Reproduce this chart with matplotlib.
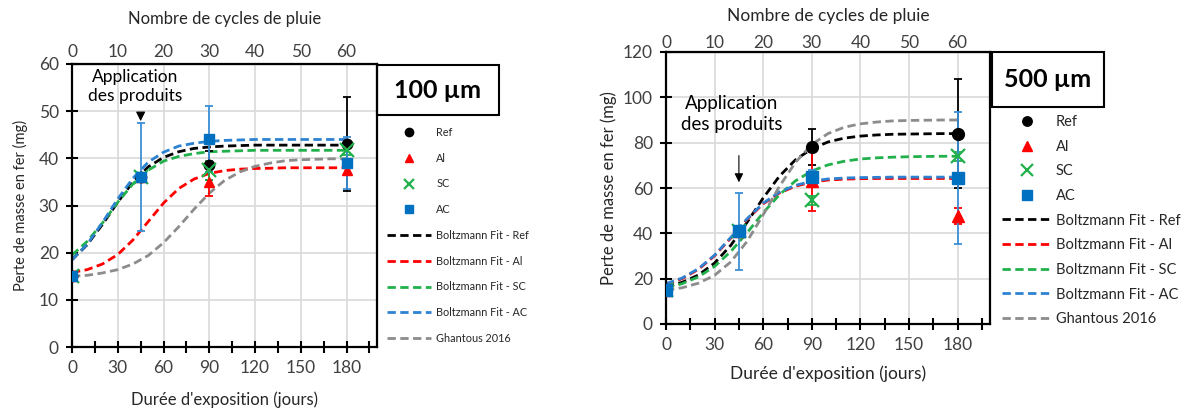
import matplotlib.pyplot as plt
from matplotlib.patches import Rectangle

plt.rcParams['font.family'] = ['Lato', 'DejaVu Sans']

# measured points (days of exposure)
days = [0, 45, 90, 180]

# 100 um coating
ref_100 = [15, 36, 38.5, 43]
ref_100_err = [0, 0, 3, 10]
al_100 = [15, 36, 35, 37.5]
al_100_err = [0, 0, 3, 1]
sc_100 = [15, 36, 37.5, 41.7]
sc_100_err = [0, 0, 2, 1]
ac_100 = [15, 36, 44, 39]
ac_100_err = [0, 11.4, 7, 5.5]

# 500 um coating
ref_500 = [15, 41, 78, 84]
ref_500_err = [0, 0, 8, 24]
al_500 = [15, 41, 63, 47.5]
al_500_err = [0, 0, 13, 3.5]
sc_500 = [15, 41, 54.5, 74]
sc_500_err = [0, 0, 2, 2]
ac_500 = [15, 41, 65, 64.5]
ac_500_err = [0, 17, 3, 29]

# fitted curves every 10 days
fit_days = [0, 10, 20, 30, 40, 50, 60, 70, 80, 90, 100, 110, 120, 130, 140, 150, 160, 170, 180]

fit_ref_100 = [18.5, 21.7, 26.0, 30.7, 35.0, 38.2, 40.2, 41.4, 42.1, 42.4, 42.6, 42.7, 42.8, 42.8, 42.8, 42.8, 42.8, 42.8, 42.8]
fit_al_100 = [15.8, 16.4, 17.6, 19.6, 22.7, 26.6, 30.5, 33.6, 35.6, 36.8, 37.4, 37.7, 37.85, 37.9, 38.0, 38.0, 38.0, 38.0, 38.0]
fit_sc_100 = [19.5, 22.4, 26.3, 30.7, 34.6, 37.5, 39.4, 40.4, 41.0, 41.4, 41.5, 41.6, 41.7, 41.7, 41.7, 41.7, 41.7, 41.7, 41.7]
fit_ac_100 = [18.5, 21.8, 26.4, 31.4, 35.8, 39.2, 41.3, 42.6, 43.2, 43.6, 43.8, 43.9, 44.0, 44.0, 44.0, 44.0, 44.0, 44.0, 44.0]
ghantous_100 = [15.0, 15.2, 15.7, 16.4, 17.6, 19.4, 22.1, 25.5, 29.2, 32.6, 35.3, 37.1, 38.3, 39.0, 39.5, 39.7, 39.8, 39.9, 39.9]

fit_ref_500 = [16.5, 18.4, 21.6, 26.9, 34.7, 44.8, 55.6, 65.2, 72.5, 77.3, 80.3, 82.0, 82.9, 83.4, 83.7, 83.8, 83.9, 84.0, 84.0]
fit_al_500 = [17.5, 20.0, 24.1, 30.1, 37.9, 46.1, 53.0, 57.8, 60.8, 62.6, 63.5, 63.9, 64.1, 64.2, 64.2, 64.2, 64.2, 64.2, 64.2]
fit_sc_500 = [16.0, 17.8, 20.8, 25.4, 32.0, 40.2, 49.1, 57.0, 63.2, 67.5, 70.2, 71.8, 72.8, 73.3, 73.6, 73.8, 73.9, 74.0, 74.0]
fit_ac_500 = [17.8, 20.3, 24.4, 30.4, 38.2, 46.4, 53.3, 58.2, 61.2, 63.0, 64.0, 64.4, 64.6, 64.7, 64.8, 64.8, 64.8, 64.8, 64.8]
ghantous_500 = [15.0, 16.0, 18.0, 21.5, 27.4, 36.4, 48.2, 60.7, 71.4, 79.2, 84.0, 86.8, 88.3, 89.1, 89.6, 89.8, 89.9, 90.0, 90.0]

day_ticks = [0, 30, 60, 90, 120, 150, 180]
cycle_ticks = [0, 10, 20, 30, 40, 50, 60]

series_names = ["Ref", "Al", "SC", "AC"]
fit_names = ["Boltzmann Fit - Ref", "Boltzmann Fit - Al", "Boltzmann Fit - SC",
             "Boltzmann Fit - AC", "Ghantous 2016"]

BLACK = "black"
RED = "#ff0000"
GREEN = "#21b04b"
BLUE = "#0070c0"
BLUE_LINE = "#2d83d2"
GRAY = "#8c8c8c"
TXT = "#404040"
DASH = (0, (3, 1.6))


def draw_panel(fig, rect, points, errors, fits, ymax, ystep, cfg):
    ax = fig.add_axes(rect)

    fit_colors = [BLACK, RED, GREEN, BLUE_LINE, GRAY]
    fit_handles = []
    for vals, col, name in zip(fits, fit_colors, fit_names):
        h, = ax.plot(fit_days, vals, color=col, linestyle=DASH, linewidth=2,
                     label=name, zorder=2)
        fit_handles.append(h)

    markers = ["o", "^", "x", "s"]
    colors = [BLACK, RED, GREEN, BLUE]
    point_handles = []
    for vals, err, m, col, name in zip(points, errors, markers, colors, series_names):
        ax.errorbar(days, vals, yerr=err, fmt="none", ecolor=col if col != BLUE else "#3a8fd6",
                    elinewidth=1.3, capsize=3, capthick=1.3, zorder=3)
        kw = dict(markersize=cfg["ms"], color=col, linestyle="none", label=name, zorder=4)
        if m == "x":
            kw["markeredgewidth"] = 1.6
            kw["markersize"] = cfg["ms"] + 2
        h, = ax.plot(days, vals, marker=m, **kw)
        point_handles.append(h)

    ax.set_xlim(0, 200)
    ax.set_ylim(0, ymax)
    ax.set_xticks(day_ticks)
    ax.set_xticks([15, 45, 75, 105, 135, 165, 195], minor=True)
    ax.set_yticks(list(range(0, ymax + 1, ystep)))
    ax.tick_params(which="both", direction="inout", length=9, width=1.5,
                   labelsize=cfg["tick_fs"], labelcolor=TXT, pad=5)
    for sp in ax.spines.values():
        sp.set_linewidth(1.6)
        sp.set_color("black")
    ax.grid(True, which="major", color="#d9d9d9", linewidth=1.2)
    ax.set_axisbelow(True)

    ax.set_xlabel("Durée d'exposition (jours)", fontsize=cfg["xlab_fs"], color="#262626",
                  labelpad=cfg["xpad"])
    ax.set_ylabel("Perte de masse en fer (mg)", fontsize=cfg["ylab_fs"], color="#262626",
                  labelpad=cfg["ypad"])

    top = ax.secondary_xaxis("top", functions=(lambda d: d / 3, lambda c: c * 3))
    top.set_xticks(cycle_ticks)
    top.tick_params(length=0, labelsize=cfg["tick_fs"], labelcolor=TXT, pad=cfg["toptickpad"])
    top.set_xlabel("Nombre de cycles de pluie", fontsize=cfg["xlab_fs"], color="#262626",
                   labelpad=cfg["toppad"])

    # application arrow + label
    ax.text(cfg["txt_x"], cfg["txt_y"], "Application\ndes produits", ha="center",
            va="center", fontsize=cfg["app_fs"], color="black", linespacing=1.25)
    ax.annotate("", xy=(45, cfg["arrow_to"]), xytext=(45, cfg["arrow_from"]),
                arrowprops=dict(arrowstyle="-|>", color="black", lw=0.8,
                                mutation_scale=cfg["arrow_scale"]))

    # thickness label box
    x0, y0, w, h = cfg["box"]
    fig.add_artist(Rectangle((x0, y0), w, h, transform=fig.transFigure,
                             fill=False, edgecolor="black", linewidth=1.5))
    fig.text(x0 + w / 2, y0 + h / 2, cfg["thick"], ha="center", va="center",
             fontsize=18, fontweight="bold", color="black")

    leg = ax.legend(point_handles + fit_handles, series_names + fit_names,
                    loc="upper left", bbox_to_anchor=cfg["leg_anchor"],
                    bbox_transform=fig.transFigure, frameon=False,
                    fontsize=cfg["leg_fs"], handlelength=cfg["handlelen"],
                    handletextpad=cfg["textpad"], labelspacing=cfg["labelspacing"],
                    borderpad=0, borderaxespad=0, markerscale=0.8)
    for t in leg.get_texts():
        t.set_color("#262626")
    return ax


def main():
    W, H = 1183, 417
    fig = plt.figure(figsize=(W / 100, H / 100), dpi=100)

    cfg_100 = {
        "ms": 7.5, "tick_fs": 12.5, "xlab_fs": 12, "ylab_fs": 10.5,
        "xpad": 11, "ypad": 8, "toppad": 14, "toptickpad": 3, "app_fs": 12.5,
        "txt_x": 41.5, "txt_y": 55.2, "arrow_from": 49.8, "arrow_to": 47.3,
        "arrow_scale": 14,
        "box": (377 / W, 1 - 115 / H, 122 / W, 50 / H), "thick": "100 µm",
        "leg_anchor": (387 / W, 1 - 127 / H), "leg_fs": 7.8, "handlelen": 4.1,
        "textpad": 0.45, "labelspacing": 1.36,
    }
    cfg_500 = {
        "ms": 8.5, "tick_fs": 12.5, "xlab_fs": 12.5, "ylab_fs": 12,
        "xpad": 9, "ypad": 4, "toppad": 10, "toptickpad": 1, "app_fs": 13.5,
        "txt_x": 40.7, "txt_y": 92.6, "arrow_from": 75.5, "arrow_to": 61.3,
        "arrow_scale": 13,
        "box": (992 / W, 1 - 107 / H, 112 / W, 55 / H), "thick": "500 µm",
        "leg_anchor": (1002 / W, 1 - 115 / H), "leg_fs": 10.5, "handlelen": 3.4,
        "textpad": 0.27, "labelspacing": 0.73,
    }

    draw_panel(fig, [72 / W, 1 - 347 / H, 305 / W, 283 / H],
               [ref_100, al_100, sc_100, ac_100],
               [ref_100_err, al_100_err, sc_100_err, ac_100_err],
               [fit_ref_100, fit_al_100, fit_sc_100, fit_ac_100, ghantous_100],
               60, 10, cfg_100)
    draw_panel(fig, [666 / W, 1 - 324 / H, 324 / W, 272 / H],
               [ref_500, al_500, sc_500, ac_500],
               [ref_500_err, al_500_err, sc_500_err, ac_500_err],
               [fit_ref_500, fit_al_500, fit_sc_500, fit_ac_500, ghantous_500],
               120, 20, cfg_500)

    fig.savefig("out.png", dpi=100)


if __name__ == "__main__":
    main()
